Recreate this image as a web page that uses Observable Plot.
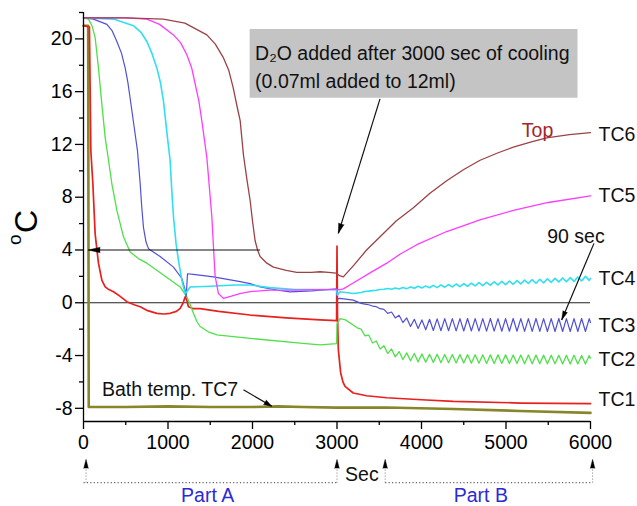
<!DOCTYPE html>
<html><head><meta charset="utf-8">
<script src="https://cdn.jsdelivr.net/npm/d3@7"></script>
<script src="https://cdn.jsdelivr.net/npm/@observablehq/plot@0.6"></script>
<style>body{margin:0;background:#fff}</style>
</head><body><div id="chart"></div>
<script>
// ---- data (time in sec, temperature in °C) ----
const tc7 = [[0,21.0],[55,21.0],[62,-7.9],[500,-7.9],[1000,-7.85],[1500,-7.9],[2000,-7.9],[2300,-7.85],[2600,-7.9],[3000,-7.95],[3589,-7.94],[4377,-8.05],[5165,-8.2],[6000,-8.35]];
const tc1 = [[0,21.0],[70,20.9],[87,11.5],[111,9.0],[138,5.2],[177,3.0],[218,1.7],[257,1.2],[300,1.0],[355,0.83],[430,0.5],[513,0.08],[600,-0.15],[671,-0.3],[760,-0.6],[868,-0.8],[950,-0.85],[1025,-0.8],[1100,-0.65],[1144,-0.42],[1180,0.0],[1203,0.45],[1222,0.2],[1242,-0.3],[1301,-0.45],[1380,-0.45],[1600,-0.65],[1972,-0.93],[2400,-1.15],[2800,-1.3],[2995,-1.35],[3000,4.3],[3006,-1.0],[3016,-3.57],[3043,-5.3],[3070,-6.0],[3095,-6.34],[3192,-6.84],[3350,-7.05],[3589,-7.2],[4000,-7.35],[4377,-7.47],[5165,-7.6],[6000,-7.65]];
const tc2 = [[0,21.6],[59,21.5],[100,21.0],[138,20.1],[177,17.8],[218,15.0],[257,12.5],[296,10.8],[336,9.0],[395,7.0],[473,5.0],[552,3.85],[650,3.35],[750,3.0],[946,2.1],[1144,1.2],[1223,0.45],[1260,-0.1],[1301,-0.8],[1340,-1.4],[1380,-1.8],[1478,-2.2],[1578,-2.44],[1972,-2.7],[2563,-3.06],[2800,-3.2],[2995,-3.1],[3000,-1.6],[3036,-1.2],[3100,-1.3],[3192,-1.68],[3240,-1.9],
 [3285,-2.0],[3330,-2.5],[3375,-2.45],[3420,-3.05],[3465,-2.9],[3510,-3.5],[3555,-3.25],[3600,-3.85],[3645,-3.5],[3690,-4.1],[3735,-3.7],[3780,-4.3],[3825,-3.8],[3870,-4.4],[3915,-3.85],[3960,-4.48],[4005,-3.88],[4050,-4.5],[4095,-3.9],[4140,-4.52],[4185,-3.9],[4230,-4.55],[4275,-3.92],[4320,-4.55],[4365,-3.92],[4410,-4.56],[4455,-3.93],[4500,-4.57],[4545,-3.93],[4590,-4.58],[4635,-3.94],[4680,-4.58],[4725,-3.94],[4770,-4.6],[4815,-3.95],[4860,-4.6],[4905,-3.95],[4950,-4.6],[4995,-3.95],[5040,-4.61],[5085,-3.96],[5130,-4.61],[5175,-3.96],[5220,-4.62],[5265,-3.96],[5310,-4.62],[5355,-3.97],[5400,-4.62],[5445,-3.97],[5490,-4.63],[5535,-3.97],[5580,-4.63],[5625,-3.98],[5670,-4.64],[5715,-3.98],[5760,-4.64],[5805,-3.98],[5850,-4.64],[5895,-3.99],[5940,-4.65],[5985,-4.0],[6000,-4.2]];
const tc3 = [[0,21.6],[118,21.5],[277,21.1],[340,20.6],[395,19.8],[450,18.9],[493,17.8],[525,16.7],[552,15.5],[600,13.3],[639,11.5],[671,9.0],[690,7.2],[710,5.7],[740,4.6],[769,4.1],[907,3.5],[1065,2.7],[1164,1.84],[1203,0.96],[1215,0.45],[1231,2.2],[1300,2.15],[1538,1.96],[1854,1.6],[1972,1.45],[2090,1.2],[2300,0.95],[2445,0.83],[2700,0.9],[2995,1.05],[3005,0.3],[3036,0.33],[3192,0.2],
 [3285,-0.05],[3330,-0.1],[3375,-0.15],[3420,-0.25],[3465,-0.3],[3510,-0.45],[3555,-0.5],[3600,-0.8],[3645,-0.7],[3690,-1.15],[3735,-0.95],[3780,-1.5],[3825,-1.15],[3870,-1.8],[3915,-1.25],[3960,-1.95],[4005,-1.3],[4050,-2.05],[4095,-1.25],[4140,-2.1],[4185,-1.22],[4230,-2.12],[4275,-1.2],[4320,-2.12],[4365,-1.2],[4410,-2.13],[4455,-1.2],[4500,-2.14],[4545,-1.19],[4590,-2.14],[4635,-1.2],[4680,-2.15],[4725,-1.2],[4770,-2.15],[4815,-1.19],[4860,-2.15],[4905,-1.2],[4950,-2.16],[4995,-1.2],[5040,-2.16],[5085,-1.19],[5130,-2.16],[5175,-1.2],[5220,-2.17],[5265,-1.2],[5310,-2.17],[5355,-1.19],[5400,-2.17],[5445,-1.2],[5490,-2.18],[5535,-1.2],[5580,-2.18],[5625,-1.19],[5670,-2.18],[5715,-1.2],[5760,-2.18],[5805,-1.2],[5850,-2.18],[5895,-1.19],[5940,-2.18],[5985,-1.2],[6000,-1.5]];
const tc4 = [[0,21.6],[355,21.5],[591,21.0],[680,20.5],[750,19.8],[810,18.9],[868,17.8],[910,16.7],[946,15.3],[994,12.5],[1025,10.8],[1045,8.5],[1065,6.5],[1095,4.5],[1124,3.2],[1164,1.7],[1203,0.7],[1230,0.9],[1262,1.2],[1500,1.25],[1800,1.35],[1972,1.35],[2200,1.15],[2500,1.0],[2800,1.0],[2995,1.0],[3005,0.58],[3036,0.83],[3192,0.7],
 [3285,0.78],[3330,0.85],[3375,0.88],[3420,0.92],[3465,0.95],[3510,1.0],[3555,1.02],[3600,1.08],[3645,1.03],[3690,1.12],[3735,1.05],[3780,1.16],[3825,1.07],[3870,1.2],[3915,1.1],[3960,1.25],[4005,1.12],[4050,1.28],[4095,1.14],[4140,1.32],[4185,1.15],[4230,1.35],[4275,1.18],[4320,1.38],[4365,1.2],[4410,1.42],[4455,1.22],[4500,1.45],[4545,1.25],[4590,1.48],[4635,1.28],[4680,1.52],[4725,1.3],[4770,1.55],[4815,1.33],[4860,1.58],[4905,1.36],[4950,1.62],[4995,1.38],[5040,1.65],[5085,1.4],[5130,1.68],[5175,1.43],[5220,1.72],[5265,1.46],[5310,1.75],[5355,1.48],[5400,1.78],[5445,1.5],[5490,1.82],[5535,1.55],[5580,1.85],[5625,1.58],[5670,1.88],[5715,1.6],[5760,1.9],[5805,1.62],[5850,1.95],[5895,1.65],[5940,2.0],[5985,1.7],[6000,1.84]];
const tc5 = [[0,21.6],[500,21.6],[750,21.5],[900,21.1],[1065,20.3],[1150,19.7],[1223,18.8],[1280,17.8],[1321,16.6],[1365,15.3],[1400,13.8],[1460,11.0],[1519,6.5],[1540,4.0],[1558,2.0],[1597,0.7],[1656,0.33],[1750,0.5],[1850,0.7],[1972,0.85],[2200,0.95],[2500,0.95],[2800,1.0],[2995,1.0],[3040,1.0],[3075,1.05],[3192,1.5],[3400,2.3],[3589,3.0],[3750,3.7],[3944,4.4],[4298,5.4],[4700,6.3],[5087,7.0],[5500,7.6],[6000,8.1]];
const tc6 = [[0,21.6],[500,21.6],[945,21.5],[1200,21.2],[1460,20.3],[1560,19.6],[1653,18.6],[1720,17.6],[1771,16.3],[1820,14.8],[1854,13.8],[1893,11.2],[1935,9.3],[1972,7.75],[2000,6.2],[2031,4.7],[2060,4.0],[2090,3.5],[2170,3.0],[2248,2.7],[2400,2.45],[2524,2.3],[2700,2.3],[2800,2.35],[2900,2.3],[2990,2.25],[3030,2.05],[3075,1.96],[3200,2.85],[3350,4.0],[3510,5.0],[3700,6.2],[3904,7.2],[4100,8.3],[4298,9.25],[4500,10.1],[4693,10.8],[4900,11.35],[5087,11.8],[5300,12.2],[5481,12.5],[5750,12.75],[6000,12.9]];

const seriesNames  = ["TC7","TC1","TC2","TC3","TC4","TC5","TC6"];
const seriesColors = ["#87862a","#e8201e","#4fe04a","#5050d8","#30dff0","#ff3cff","#9a4246"];
const seriesWidths = [2.6,1.7,1.3,1.2,1.6,1.3,1.3];
const seriesData   = [tc7,tc1,tc2,tc3,tc4,tc5,tc6];

const rightLabels = [["TC6",12.75],["TC5",8.12],["TC4",1.84],["TC3",-1.74],["TC2",-4.29],["TC1",-7.35]];
const xTicks = [0,1000,2000,3000,4000,5000,6000];
const xMinor = [500,1500,2500,3500,4500,5500];
const yTicks = [-8,-4,0,4,8,12,16,20];
const yMinor = [-6,-2,2,6,10,14,18,22];

// annotations
const boxArea = [{x1:1972,x2:5852,y1:20.71,y2:15.5}];
const boxLines = [{x:2031,y:18.9,text:"D\u2082O added after 3000 sec of cooling"},{x:2031,y:16.72,text:"(0.07ml added to 12ml)"}];
const arrows = [ // from, to (tip), head length px, head half width px
  {from:[2090,4.0], to:[55,4.0], len:12, r:2.8},
  {from:[3509,15.45], to:[3016,5.26], len:10, r:2.8},
  {from:[6041,4.5], to:[5659,-1.3], len:9, r:2.4},
  {from:[1893,-6.6], to:[2228,-7.85], len:8, r:2.6}
];
const notesStart = [
  {x:218, y:-6.63, text:"Bath temp. TC7", fill:"#111"},
  {x:3095, y:-13.0, text:"Sec", fill:"#111"}
];
const notesMiddle = [
  {x:5828, y:4.98, text:"90 sec", fill:"#111"},
  {x:5373, y:13.0, text:"Top", fill:"#a3262b"},
  {x:1469, y:-14.66, text:"Part A", fill:"#2b2bd6"},
  {x:4702, y:-14.66, text:"Part B", fill:"#2b2bd6"}
];
const partMarkers = [30, 3000, 3570, 6025];
const partLineY = -13.63, partTipY = -11.87;
const partSegments = [{x1:0,x2:3000},{x1:3570,x2:6025}];

// ---- layout ----
const W = 637, H = 506, ML = 83, MR = 47, MT = 12, MB = 85;
const xDom = [0,6000], yDom = [-9,22];
const kx = (W-ML-MR)/(xDom[1]-xDom[0]);
const ky = (H-MT-MB)/(yDom[1]-yDom[0]);
const FS = 19.5;

function head(from, to, len, r) {
  const dxp = (to[0]-from[0])*kx, dyp = -(to[1]-from[1])*ky;
  const L = Math.hypot(dxp, dyp), ux = dxp/L, uy = dyp/L;
  return {x: to[0] - ux*len/kx, y: to[1] + uy*len/ky, rotate: Math.atan2(ux, -uy)*180/Math.PI, len, r};
}

const lineMarks = seriesData.map((d,i) => Plot.line(d, {x: p=>p[0], y: p=>p[1], stroke: seriesColors[i], strokeWidth: seriesWidths[i], strokeLinejoin:"round"}));
const headMarks = arrows.map(a => { const h = head(a.from, a.to, a.len, a.r);
  return Plot.vector([h], {x:"x", y:"y", rotate:"rotate", length:a.len, r:a.r, shape:"spike", anchor:"start", fill:"black", stroke:"black", strokeWidth:0.4}); });
const partHeads = partMarkers.map(t => { const h = head([t,partLineY],[t,partTipY],9,2.3);
  return {t, base:h.y, ...h}; });

const fmt = d => String(d);
const chart = Plot.plot({
  width: W, height: H, marginLeft: ML, marginRight: MR, marginTop: MT, marginBottom: MB,
  style: {fontFamily: "'Liberation Sans', Arial, sans-serif", background: "white", color: "black", overflow: "visible"},
  x: {domain: xDom}, y: {domain: yDom},
  marks: [
    Plot.rect(boxArea, {x1:"x1", x2:"x2", y1:"y1", y2:"y2", fill:"#c4c4c4"}),
    Plot.text(boxLines, {x:"x", y:"y", text:"text", textAnchor:"start", fontSize:FS, fill:"#111"}),
    Plot.ruleY([0], {stroke:"#222", strokeWidth:1}),
    ...lineMarks,
    Plot.ruleX([0], {stroke:"black", strokeWidth:1.3}),
    Plot.ruleY([-9], {stroke:"black", strokeWidth:1.3}),
    Plot.axisX({ticks:xTicks, tickSize:8, tickPadding:6, fontSize:FS, tickFormat:fmt, label:null, strokeWidth:1.3}),
    Plot.axisX({ticks:xMinor, tickSize:4, text:null, label:null, strokeWidth:1.3}),
    Plot.axisY({ticks:yTicks, tickSize:8, tickPadding:3, fontSize:FS, tickFormat:fmt, label:null, strokeWidth:1.3}),
    Plot.axisY({ticks:yMinor, tickSize:4, text:null, label:null, strokeWidth:1.3}),
    Plot.text(["C"], {frameAnchor:"left", rotate:-90, dx:-57, dy:16, fontSize:32, fill:"black"}),
    Plot.text(["o"], {frameAnchor:"left", rotate:-90, dx:-69, dy:28, fontSize:19, fill:"black"}),
    Plot.text(rightLabels, {x:6000, y:d=>d[1], text:d=>d[0], dx:8, textAnchor:"start", fontSize:FS, fill:"#111"}),
    Plot.link(arrows, {x1:d=>d.from[0], y1:d=>d.from[1], x2:d=>d.to[0], y2:d=>d.to[1], stroke:"#111", strokeWidth:1.2}),
    ...headMarks,
    Plot.text(notesStart, {x:"x", y:"y", text:"text", textAnchor:"start", fill:d=>d.fill, fontSize:FS}),
    Plot.text(notesMiddle, {x:"x", y:"y", text:"text", textAnchor:"middle", fill:d=>d.fill, fontSize:FS}),
    Plot.link(partSegments, {x1:"x1", x2:"x2", y1:partLineY, y2:partLineY, stroke:"#666", strokeWidth:1.2, strokeDasharray:"1.2,2.2"}),
    Plot.link(partHeads, {x1:"t", x2:"t", y1:partLineY, y2:"base", stroke:"#777", strokeWidth:1, strokeDasharray:"1,2"}),
    Plot.vector(partHeads, {x:"t", y:"base", length:9, r:2.3, shape:"spike", anchor:"start", fill:"black", stroke:"black", strokeWidth:0.4})
  ]
});
document.getElementById("chart").appendChild(chart);
</script>
</body></html>
